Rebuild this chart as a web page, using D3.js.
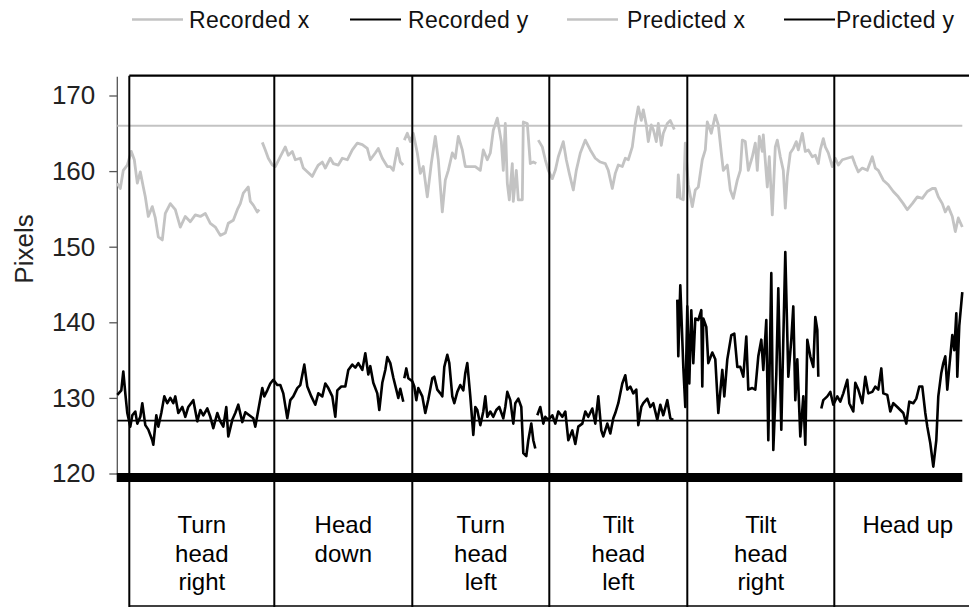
<!DOCTYPE html>
<html>
<head>
<meta charset="utf-8">
<script src="https://cdn.jsdelivr.net/npm/d3@7"></script>
<style>
  body { margin: 0; background: #fff; }
  svg { display: block; font-family: 'Liberation Sans', Arial, sans-serif; }
</style>
</head>
<body>
<div id="chart"></div>
<script>
// tracking data, x = frame index, y = pixels; null breaks the trace
const recordedX = [
  [0,158.4],[3,157.7],[6,160.1],[10,160.8],[14,162.6],[17,161.5],[20,158.4],[23,159.9],[26,157.9],[28,156.6],
  [31,154.0],[35,155.3],[38,153.8],[41,151.3],[45,150.9],[48,154.4],[53,155.7],[58,154.9],[63,152.6],[68,154.0],
  [73,153.3],[78,154.2],[83,154.0],[88,154.4],[93,153.1],[98,152.6],[103,151.5],[108,151.8],[111,153.1],[116,153.5],
  [120,154.9],[123,155.7],[126,157.1],[131,157.9],[133,156.0],[136,155.5],[140,154.6],[142,154.9],
  null,
  [145,163.8],[148,162.8],[151,161.7],[155,160.8],[158,160.6],[163,161.9],[168,163.2],[171,162.1],[175,162.6],[178,161.5],
  [183,161.7],[186,160.4],[190,159.9],[195,159.3],[198,160.1],[201,160.8],[205,161.2],[208,160.4],[213,161.7],[216,161.0],
  [221,160.8],[225,161.7],[230,161.5],[235,162.8],[240,163.7],[245,163.5],[250,163.0],[253,161.5],[258,162.4],[261,163.0],
  [265,161.7],[270,160.6],[273,160.6],[276,160.1],[280,163.0],[283,161.2],[286,160.8],
  null,
  [287,164.1],[290,165.0],[293,163.9],[296,165.0],[300,162.4],[303,159.7],[306,160.6],[310,156.6],[314,161.0],[318,164.6],
  [321,161.5],[325,154.6],[328,158.8],[331,160.1],[335,162.4],[338,161.7],[341,164.6],[345,162.8],[348,160.6],[353,160.6],
  [358,160.6],[363,160.1],[366,162.8],[370,161.5],[373,162.4],[376,165.4],[380,167.0],[384,163.9],[386,160.1],[388,166.3],
  [390,158.4],[392,156.2],[395,161.0],[396,156.0],[399,160.1],[401,156.2],[405,156.2],[406,166.5],[410,166.3],[413,161.0],
  [416,161.2],[419,161.0],
  null,
  [421,164.1],[425,163.2],[428,161.5],[431,160.1],[435,159.0],[438,160.1],[441,161.9],[446,163.9],[449,161.5],[452,159.7],
  [456,157.5],[459,160.1],[463,162.4],[468,164.1],[473,162.8],[478,161.7],[483,161.2],[488,161.0],[491,160.1],[495,157.7],
  [498,159.7],[501,160.8],[505,160.6],[508,161.7],[511,161.5],[515,163.2],[518,166.3],[521,168.5],[524,166.7],[526,168.1],
  [529,166.1],[531,163.9],[534,166.1],[536,165.5],[539,163.9],[541,166.3],[544,163.4],[546,165.0],[550,166.3],[553,166.7],
  [557,165.5],
  null,
  [560,156.4],[561,159.5],[563,156.4],[566,156.2],[568,163.7],[571,158.2],[575,155.3],[578,157.5],[581,157.9],[585,161.5],
  [588,162.8],[590,166.5],[594,165.0],[598,167.4],[601,166.1],[604,162.4],[606,160.1],[610,160.8],[613,157.5],[616,156.4],
  [620,158.8],[623,160.1],[625,164.1],[628,163.9],[631,160.1],[635,161.9],[638,163.7],[640,160.1],[642,164.6],[645,162.6],
  [646,164.8],[650,157.9],[652,161.9],[655,154.2],[658,163.2],[660,164.1],[663,161.9],[666,160.1],[668,155.1],[670,159.3],
  [673,162.4],[676,163.0],[679,163.9],[681,162.8],[685,165.0],[688,162.6],[691,162.8],[695,161.9],[698,162.1],[701,161.0],
  [703,162.8],[706,164.3],[708,163.2],[711,162.4],[715,160.6],[718,161.7],[721,160.8],[725,161.5],[730,161.7],[735,161.9],
  [738,160.8],[741,159.9],[745,160.4],[750,160.1],[755,161.9],[758,160.4],[761,160.1],[766,158.8],[771,158.2],[776,157.3],
  [781,156.6],[786,155.7],[790,154.9],[795,155.7],[800,156.6],[805,156.4],[810,157.3],[815,157.7],[818,157.7],[821,156.6],
  [825,155.7],[828,154.6],[831,155.3],[835,154.0],[838,152.0],[841,153.8],[845,152.6]
];

const recordedY = [
  [0,130.4],[4,131.0],[6,133.5],[8,130.6],[10,128.0],[13,126.2],[15,127.7],[18,128.2],[20,126.6],[23,127.5],
  [25,129.3],[28,126.4],[31,125.8],[35,124.4],[36,123.8],[39,127.7],[41,126.2],[44,128.0],[47,130.2],[50,129.3],
  [53,130.0],[56,129.3],[58,130.2],[61,128.0],[65,128.8],[68,127.5],[71,128.8],[76,129.7],[80,126.9],[83,128.4],
  [86,127.7],[90,128.6],[93,127.5],[96,126.0],[100,128.0],[103,126.9],[106,126.2],[109,128.8],[111,124.9],[115,127.1],
  [118,128.0],[121,129.1],[125,126.8],[128,128.1],[132,127.7],[136,127.3],[138,126.2],[141,128.4],[145,131.3],[147,130.2],
  [150,131.0],[153,131.9],[156,132.4],[160,131.7],[163,131.7],[166,130.6],[170,127.3],[173,129.7],[176,130.2],[180,131.3],
  [183,131.7],[187,134.4],[190,131.5],[194,130.2],[198,129.1],[201,130.6],[205,130.2],[208,131.9],[211,131.3],[215,130.2],
  [218,127.5],[220,131.0],[224,131.5],[228,131.5],[231,133.7],[235,134.4],[238,134.0],[241,134.6],[245,133.7],[248,135.9],
  [251,133.1],[253,134.2],[256,132.0],[260,130.6],[262,128.4],[265,132.0],[268,133.7],[270,135.4],[273,134.6],[276,132.7],
  [279,131.1],[281,130.0],[283,131.2],[286,129.5],
  null,
  [287,132.6],[289,133.9],[291,132.6],[295,132.2],[297,131.5],[299,129.7],[301,131.3],[305,130.2],[308,128.0],[311,129.8],
  [315,132.6],[317,132.8],[320,131.1],[323,130.6],[325,130.2],[327,134.1],[330,135.7],[332,134.6],[335,130.2],[337,129.3],
  [340,130.8],[343,131.7],[346,131.0],[348,133.3],[350,134.6],[353,130.2],[356,125.1],[358,128.8],[360,128.4],[363,126.4],
  [366,128.2],[368,130.2],[370,127.5],[373,128.2],[376,127.5],[379,128.4],[382,128.8],[386,127.3],[388,128.8],[390,130.8],
  [393,129.7],[396,126.6],[398,129.3],[401,129.9],[404,128.8],[406,122.7],[409,122.3],[411,124.4],[414,126.6],[416,124.4],
  [418,123.3],
  null,
  [420,127.7],[423,128.8],[426,126.6],[428,127.5],[431,127.1],[435,127.7],[438,126.6],[441,128.2],[445,127.5],[448,128.2],
  [451,124.4],[455,125.7],[458,123.9],[461,126.2],[465,126.6],[468,128.2],[471,127.5],[475,128.6],[478,126.6],[481,130.2],
  [484,125.7],[486,124.9],[490,126.6],[493,125.3],[496,127.3],[498,128.0],[501,129.3],[505,131.9],[508,133.0],[510,131.1],
  [513,131.5],[516,130.6],[519,131.1],[521,126.4],[524,128.8],[526,129.3],[530,129.9],[533,128.8],[536,129.3],[540,127.1],
  [543,129.1],[546,127.7],[550,129.7],[553,127.3],[556,127.1],
  null,
  [560,143.0],[561,135.5],[563,144.9],[566,134.1],[568,128.8],[570,142.1],[572,131.9],[574,141.6],[576,134.6],[578,140.5],
  [581,140.3],[584,141.6],[585,131.5],[586,140.5],[589,139.4],[591,134.6],[595,136.0],[598,135.1],[601,128.0],[605,133.7],
  [607,130.2],[610,135.1],[614,138.3],[617,138.5],[620,134.1],[623,134.1],[626,132.8],[629,138.1],[631,131.1],[635,131.3],
  [638,131.1],[641,135.5],[644,137.7],[646,133.7],[649,140.3],[651,124.4],[654,146.5],[656,123.1],[659,133.1],[661,144.5],
  [664,125.8],[666,137.7],[668,149.3],[671,132.8],[674,137.7],[676,142.1],[678,129.7],[680,135.1],[683,124.9],[686,130.2],
  [688,123.8],[690,137.7],[693,135.5],[696,134.1],[698,140.7],[700,139.0],[701,132.8],
  null,
  [704,128.6],[706,129.7],[710,130.2],[713,130.8],[716,129.1],[720,130.2],[723,129.5],[726,130.6],[730,132.4],[732,129.3],
  [736,128.2],[738,132.0],[741,131.1],[745,129.3],[748,132.8],[751,130.6],[755,130.8],[758,131.5],[761,131.1],[764,133.9],
  [766,130.6],[770,130.4],[773,128.2],[776,129.3],[780,128.8],[783,128.4],[786,128.0],[789,126.6],[792,129.5],[796,129.3],
  [799,129.9],[802,131.5],[805,131.5],[808,128.0],[810,126.2],[813,124.0],[816,120.9],[819,124.4],[821,130.2],[824,133.3],
  [826,134.6],[828,135.5],[830,131.1],[832,134.1],[835,138.3],[837,136.3],[839,141.2],[840,132.8],[842,139.6],[845,144.0]
];

const predictedX = [[0, 166.0], [845, 166.0]];
const predictedY = [[0, 127.0], [845, 127.0]];

const yTicks = [120, 130, 140, 150, 160, 170];
const phaseBounds = [12, 157, 295, 432, 570, 717, 864];
const phaseLabels = [
  ['Turn', 'head', 'right'],
  ['Head', 'down'],
  ['Turn', 'head', 'left'],
  ['Tilt', 'head', 'left'],
  ['Tilt', 'head', 'right'],
  ['Head up']
];
const seriesNames = ['Recorded x', 'Recorded y', 'Predicted x', 'Predicted y'];

const W = 969, H = 607;
const GRAY = '#c3c3c3';

const svg = d3.select('#chart').append('svg').attr('width', W).attr('height', H);

const x = d3.scaleLinear().domain([0, 864]).range([117.3, 981.3]);
const y = d3.scaleLinear().domain([120, 170]).range([473.5, 95.5]);

const line = d3.line()
  .defined(d => d !== null)
  .x(d => x(d[0]))
  .y(d => y(d[1]));

const topY = 75.7;
const bottomY = 606;

// legend
const legendLineX = [132, 350, 567, 784];
const legendTextX = [189, 408, 627, 836];
const legend = svg.append('g');
seriesNames.forEach((name, i) => {
  const col = i % 2 === 0 ? GRAY : '#000';
  legend.append('line')
    .attr('x1', legendLineX[i]).attr('x2', legendLineX[i] + 51)
    .attr('y1', 19.5).attr('y2', 19.5)
    .style('stroke', col).style('stroke-width', i % 2 === 0 ? 2.5 : 2.2);
  legend.append('text').text(name)
    .attr('x', legendTextX[i]).attr('y', 27.7)
    .style('font-size', '23px').style('letter-spacing', '0.3px').style('fill', '#111');
});

// y axis
const yAxis = svg.append('g')
  .attr('transform', `translate(${x(0)},0)`)
  .call(d3.axisLeft(y).tickValues(yTicks).tickSize(8).tickPadding(14).tickFormat(d3.format('d')));
yAxis.select('.domain').remove();
yAxis.selectAll('.tick line').style('stroke', '#555').style('stroke-width', 1.3);
yAxis.selectAll('.tick text').style('font-size', '26px').style('fill', '#222');
yAxis.append('line')
  .attr('x1', 0).attr('x2', 0)
  .attr('y1', topY + 1).attr('y2', y(120))
  .style('stroke', '#555').style('stroke-width', 1.3);

svg.append('text').text('Pixels')
  .attr('transform', 'translate(33,249) rotate(-90)')
  .attr('text-anchor', 'middle')
  .style('font-size', '26px').style('fill', '#222');

// predicted lines
svg.append('path').datum(predictedX).attr('d', line)
  .style('fill', 'none').style('stroke', GRAY).style('stroke-width', 2.2);
svg.append('path').datum(predictedY).attr('d', line)
  .style('fill', 'none').style('stroke', '#000').style('stroke-width', 1.8);

// recorded traces
svg.append('path').datum(recordedX).attr('d', line)
  .style('fill', 'none').style('stroke', GRAY).style('stroke-width', 2.8).style('stroke-linejoin', 'round');
svg.append('path').datum(recordedY).attr('d', line)
  .style('fill', 'none').style('stroke', '#000').style('stroke-width', 2.6).style('stroke-linejoin', 'round');

// thick base bar
svg.append('rect')
  .attr('x', x(0) - 0.6).attr('y', y(120) - 0.5)
  .attr('width', x(845) - x(0) + 0.6).attr('height', 9)
  .style('fill', '#000');

// phase table frame
svg.append('line')
  .attr('x1', x(phaseBounds[0])).attr('x2', W)
  .attr('y1', topY).attr('y2', topY)
  .style('stroke', '#000').style('stroke-width', 2.2);
svg.append('line')
  .attr('x1', x(phaseBounds[0])).attr('x2', W)
  .attr('y1', bottomY).attr('y2', bottomY)
  .style('stroke', '#000').style('stroke-width', 1.6);
svg.selectAll('.phase-line').data(phaseBounds.slice(0, -1)).enter()
  .append('line').attr('class', 'phase-line')
  .attr('x1', d => x(d)).attr('x2', d => x(d))
  .attr('y1', topY).attr('y2', H)
  .style('stroke', '#000').style('stroke-width', 2);

// phase labels
phaseLabels.forEach((lines, i) => {
  const cx = (x(phaseBounds[i]) + x(phaseBounds[i + 1])) / 2;
  const t = svg.append('text')
    .attr('text-anchor', 'middle')
    .style('font-size', '24px').style('fill', '#000');
  lines.forEach((s, j) => {
    t.append('tspan').attr('x', cx).attr('y', 533 + j * 28.5).text(s);
  });
});
</script>
</body>
</html>
